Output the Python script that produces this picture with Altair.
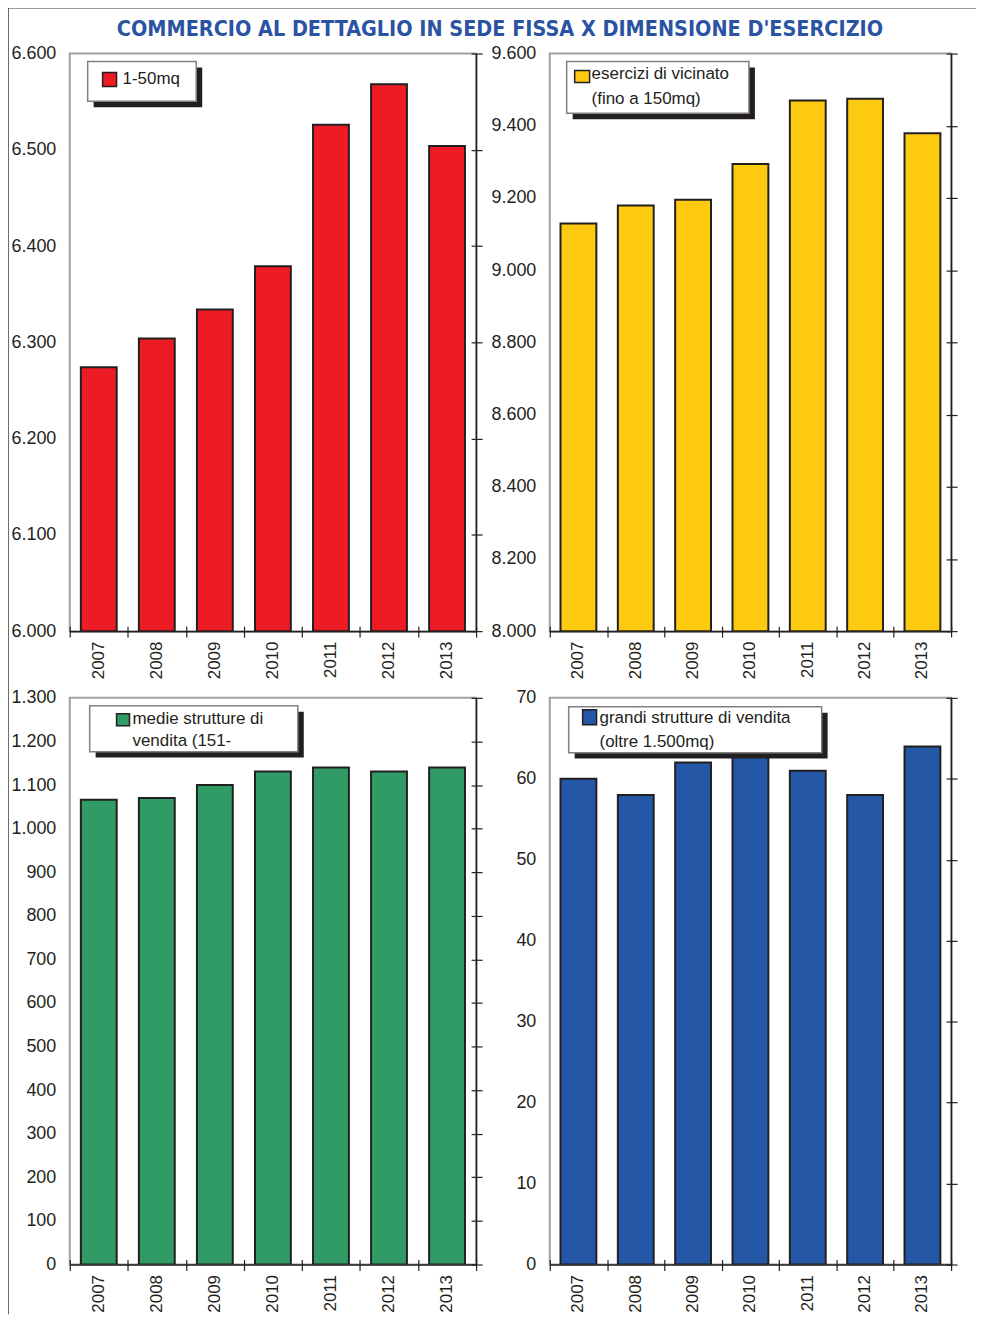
import altair as alt
import pandas as pd

years = ["2007", "2008", "2009", "2010", "2011", "2012", "2013"]
v_1_50 = [6274, 6304, 6334, 6379, 6526, 6568, 6504]
v_vicinato = [9129, 9179, 9195, 9294, 9470, 9475, 9379]
v_medie = [1066, 1070, 1100, 1131, 1140, 1131, 1140]
v_grandi = [60, 58, 62, 63, 61, 58, 64]

colors = ["#ED1C24", "#FDCA10", "#319B66", "#2557A7"]
domains = [(6000, 6600, 100), (8000, 9600, 200), (0, 1300, 100), (0, 70, 10)]
legend_texts = [
    ["1-50mq"],
    ["esercizi di vicinato", "(fino a 150mq)"],
    ["medie strutture di", "vendita (151-"],
    ["grandi strutture di vendita", "(oltre 1.500mq)"],
]
title_text = "COMMERCIO AL DETTAGLIO IN SEDE FISSA X DIMENSIONE D'ESERCIZIO"

# legend box geometry relative to plot area: box, square, text positions
legend_geo = [
    dict(box=(18, 8, 127, 48), sq=(33, 19, 47, 33), tx=[(53, 26)]),
    dict(box=(17, 8, 200, 60), sq=(25, 17, 40, 29), tx=[(42, 21), (42, 46)]),
    dict(box=(20, 8, 229, 54), sq=(47, 16, 60, 28), tx=[(63, 21), (63, 43)]),
    dict(box=(19, 9, 273, 55), sq=(33, 12, 47, 27), tx=[(50, 20), (50, 44)]),
]

FONT = "Liberation Sans, Arial, sans-serif"
INK = "#231f20"
WIDTHS = [408, 403, 408, 403]
HEIGHTS = [580, 580, 569, 569]

one = alt.Data(values=[{"k": 0}])


def panel(values, color, dom, legend, geo, w, h, frame=False):
    dmin, dmax, step = dom
    df = pd.DataFrame({"anno": years, "valore": values, "base": [dmin] * len(years)})
    tick_vals = list(range(dmin, dmax + 1, step))
    xs = alt.Scale(paddingInner=0, paddingOuter=0)
    ys = alt.Scale(domain=[dmin, dmax], zero=False, nice=False)
    lab = "replace(format(datum.value, ','), ',', '.')"

    bars = alt.Chart(df).mark_bar(
        size=36, color=color, stroke=INK, strokeWidth=2, clip=True
    ).encode(
        x=alt.X("anno:N", scale=xs, axis=alt.Axis(
            title=None, orient="bottom", labelAngle=-90, labelPadding=10,
            ticks=False, domainColor=INK, domainWidth=1.5, labelFontSize=17,
            labelColor=INK, labelFont=FONT)),
        y=alt.Y("valore:Q", scale=ys, axis=alt.Axis(
            title=None, orient="left", values=tick_vals, labelExpr=lab,
            ticks=False, domain=False, grid=False, labelPadding=14,
            labelFontSize=18, labelColor=INK, labelFont=FONT)),
        y2="base:Q",
    )
    ticks_a = alt.Chart(df).mark_bar(opacity=0).encode(
        x=alt.X("anno:N", scale=xs, axis=alt.Axis(
            title=None, orient="bottom", offset=-5, labels=False, domain=False,
            ticks=True, tickSize=11, tickColor=INK, tickWidth=1.2,
            tickBand="extent")),
        y=alt.Y("valore:Q", scale=ys, axis=alt.Axis(
            title=None, orient="right", values=tick_vals, labels=False,
            domain=True, domainColor=INK, domainWidth=1.5, ticks=True,
            tickSize=6, tickColor=INK, tickWidth=1.2, grid=False)),
        y2="base:Q",
    )
    ticks_b = alt.Chart(df).mark_bar(opacity=0).encode(
        x=alt.X("anno:N", scale=xs, axis=None),
        y=alt.Y("valore:Q", scale=ys, axis=alt.Axis(
            title=None, orient="right", offset=-5, values=tick_vals,
            labels=False, domain=False, ticks=True, tickSize=5, tickColor=INK,
            tickWidth=1.2, grid=False)),
        y2="base:Q",
    )

    bx1, by1, bx2, by2 = geo["box"]
    shadow = alt.Chart(one).mark_rect(color=INK).encode(
        x=alt.value(bx1 + 6), x2=alt.value(bx2 + 6),
        y=alt.value(by1 + 6), y2=alt.value(by2 + 6))
    box = alt.Chart(one).mark_rect(fill="white", stroke="#808080", strokeWidth=1.5).encode(
        x=alt.value(bx1), x2=alt.value(bx2), y=alt.value(by1), y2=alt.value(by2))
    sx1, sy1, sx2, sy2 = geo["sq"]
    square = alt.Chart(one).mark_rect(fill=color, stroke=INK, strokeWidth=1.5).encode(
        x=alt.value(sx1), x2=alt.value(sx2), y=alt.value(sy1), y2=alt.value(sy2))
    texts = []
    for line, (tx, ty) in zip(legend, geo["tx"]):
        texts.append(alt.Chart(one).mark_text(
            align="left", baseline="middle", fontSize=17, font=FONT, color=INK
        ).encode(x=alt.value(tx), y=alt.value(ty), text=alt.value(line)))

    extra = []
    if frame:
        # page frame (top and left edges) drawn from the first panel
        extra.append(alt.Chart(one).mark_rule(color="#3a3a3a", strokeWidth=1.5).encode(
            x=alt.value(-62), x2=alt.value(910), y=alt.value(-46)))
        extra.append(alt.Chart(one).mark_rule(color="#3a3a3a", strokeWidth=1.5).encode(
            x=alt.value(-62), y=alt.value(-46), y2=alt.value(1266)))

    return alt.layer(bars, ticks_a, ticks_b, shadow, box, square, *texts, *extra).resolve_axis(
        x="independent", y="independent"
    ).properties(width=w, height=h)


series = [v_1_50, v_vicinato, v_medie, v_grandi]
panels = [panel(series[i], colors[i], domains[i], legend_texts[i], legend_geo[i],
                WIDTHS[i], HEIGHTS[i], frame=(i == 0))
          for i in range(4)]

chart = alt.concat(*panels, columns=2, spacing={"row": 67, "column": 74},
                   bounds="flush").properties(
    title=alt.TitleParams(
        text=title_text, anchor="middle", fontSize=21.5, fontWeight="bold",
        font="Liberation Sans Narrow, Arial Narrow, DejaVu Sans Condensed, sans-serif",
        color="#2A53A4", offset=-35, dx=8),
    padding={"left": -2, "top": -5, "right": 0, "bottom": 0},
).configure_view(stroke="#a0a0a0", strokeWidth=2)

chart.save("out.html", embed_options={"renderer": "svg", "actions": False})
